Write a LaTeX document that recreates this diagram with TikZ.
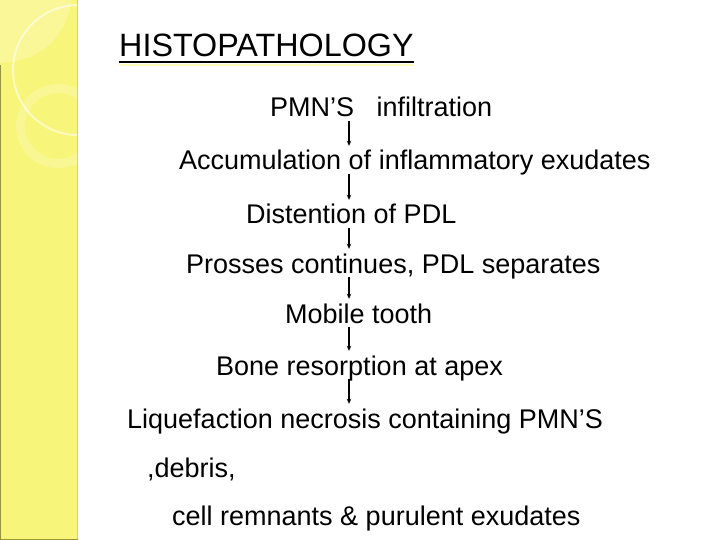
\documentclass[tikz,border=0pt]{standalone}
\usepackage{fontspec}
\setmainfont{Liberation Sans}[Ligatures=NoCommon]
\usetikzlibrary{arrows.meta}
\usepackage{xcolor}
\definecolor{stripyellow}{RGB}{248,246,122}
\definecolor{stripedge}{RGB}{214,212,112}
\definecolor{stripdark}{RGB}{150,148,60}

\begin{document}
\begin{tikzpicture}[x=1pt, y=-1pt,
    stepline/.style={font=\fontsize{27}{30}\selectfont, inner sep=0pt,
        text height=24pt, text depth=4pt, anchor=base west},
    flow/.style={-{Stealth[length=5pt,width=4.5pt]}, line width=1.1pt}]
        \useasboundingbox[fill=white] (0, 0) rectangle (720, 540);

        % yellow strip on the left
        \fill[stripyellow] (0, 0) rectangle (78, 540);
        \fill[white, opacity=0.22] (0, 0)--(72, 0) .. controls (64, 38) and (44, 60) .. (0, 63)--cycle;
        \begin{scope}
        \clip (0, 0) rectangle (78, 540);
        \draw[white, opacity=0.55, line width=2] (78, 70) circle (65);
        \fill[white, opacity=0.2, even odd rule] (58, 126) circle (42) (58, 126) circle (33);
        \end{scope}
        \draw[stripedge, line width=1.5] (77.5, 0)--(77.5, 540);
        \draw[stripdark, line width=1.5] (0.5, 65)--(0.5, 539.5)--(77.5, 539.5);

        % title
        \node[font=\fontsize{32.3}{36}\selectfont, inner sep=0pt, text depth=5pt, anchor=base west] (title) at (119, 57) {HISTOPATHOLOGY};
        \draw[yellow!25, line width=2] ([yshift=-2.5pt]title.south west)--([yshift=-2.5pt]title.south east);
        \draw[line width=2] (title.south west)--(title.south east);

        % chain of events
        \node[stepline] (pmn) at (270, 117) {PMN’S~~~infiltration};
        \node[stepline] (accum) at (179, 170) {Accumulation of inflammatory exudates};
        \node[stepline] (disten) at (246, 224) {Distention of PDL};
        \node[stepline] (prosses) at (186, 273) {Prosses continues, PDL separates};
        \node[stepline] (mobile) at (285, 323) {Mobile tooth};
        \node[stepline] (bone) at (216, 375) {Bone resorption at apex};
        \node[stepline] (lique) at (127, 428) {Liquefaction necrosis containing PMN’S};
        \node[stepline] (debris) at (147, 477) {,debris,};
        \node[stepline] (cell) at (172, 525) {cell remnants \& purulent exudates};

        \coordinate (axis) at (349, 0);
        \draw[flow] (pmn.south -| axis)--(accum.north -| axis);
        \draw[flow] (accum.south -| axis)--(disten.north -| axis);
        \draw[flow] (disten.south -| axis)--(prosses.north -| axis);
        \draw[flow] (prosses.south -| axis)--(mobile.north -| axis);
        \draw[flow] (mobile.south -| axis)--(bone.north -| axis);
        \draw[flow] (bone.south -| axis)--(lique.north -| axis);

        \end{tikzpicture}
\end{document}
